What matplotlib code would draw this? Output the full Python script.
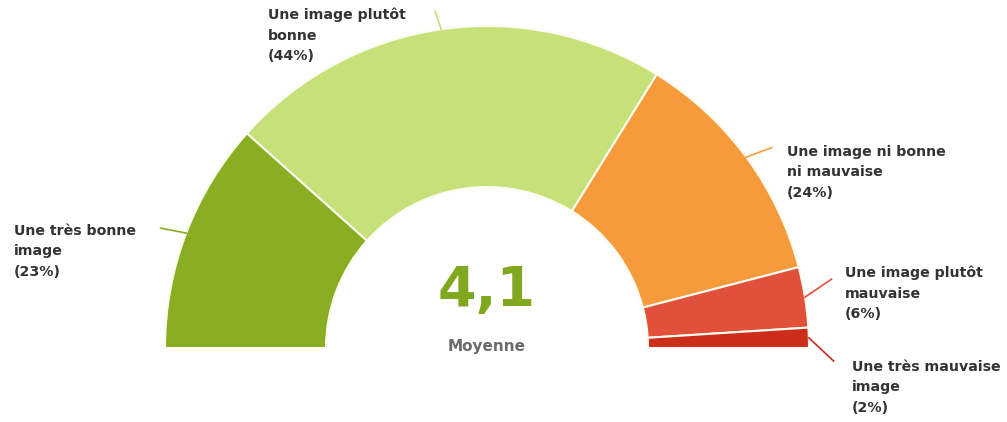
import numpy as np
from matplotlib import pyplot as plt

labels = ['Une très bonne\nimage\n(23%)',
          'Une image plutôt\nbonne\n(44%)',
          'Une image ni bonne\nni mauvaise\n(24%)',
          'Une image plutôt\nmauvaise\n(6%)',
          'Une très mauvaise\nimage\n(2%)']
values = [23, 44, 24, 6, 2]
colors = ['#8aae22', '#c6e07a', '#f69b3c', '#e1503a', '#cd2d1b']
average = '4,1'
average_label = 'Moyenne'

W, H = 1007, 422
cx, cy = 487, H - 348   # centre of the half ring (y up)
R = 322
ring = 0.5

fig = plt.figure(figsize=(W / 100, H / 100), dpi=100)
ax = fig.add_axes([0, 0, 1, 1])

total = sum(values)
# invisible second half so the ring covers only the top half
wedges, _ = ax.pie(values + [total], colors=colors + ['none'],
                   startangle=180, counterclock=False, radius=R,
                   center=(cx, cy),
                   wedgeprops=dict(width=R * ring, edgecolor='#fbfbf0', linewidth=1.5))
wedges[-1].set_edgecolor('none')

ax.set_xlim(0, W)
ax.set_ylim(0, H)
ax.set_aspect('auto')
ax.axis('off')

# leader lines + label anchors (pixel coords, y down)
leader_len = [26, 19, 27, 32, 34]
leader_dir = [10, 10, -16, 25, -45]   # degrees added to the radial direction
text_pos = [(14, 224), (268, 8), (787, 145), (845, 266), (852, 360)]

acc = 0
for i, v in enumerate(values):
    mid = 180 - (acc + v / 2) / total * 180
    acc += v
    a = np.radians(mid)
    x0, y0 = cx + R * np.cos(a), cy + R * np.sin(a)
    b = np.radians(mid + leader_dir[i])
    x1, y1 = x0 + leader_len[i] * np.cos(b), y0 + leader_len[i] * np.sin(b)
    ax.plot([x0, x1], [y0, y1], color=colors[i], lw=1.2)
    tx, ty = text_pos[i]
    ax.text(tx, H - ty, labels[i], ha='left', va='top', fontsize=10.2,
            color='#333333', linespacing=1.58, fontweight='bold')

ax.text(cx, H - 291, average, ha='center', va='center', fontsize=40,
        fontweight='bold', color='#80a81f')
ax.text(cx, H - 347, average_label, ha='center', va='center', fontsize=11,
        fontweight='bold', color='#6b6b6b')

fig.savefig('out.png', dpi=100, facecolor='white')
